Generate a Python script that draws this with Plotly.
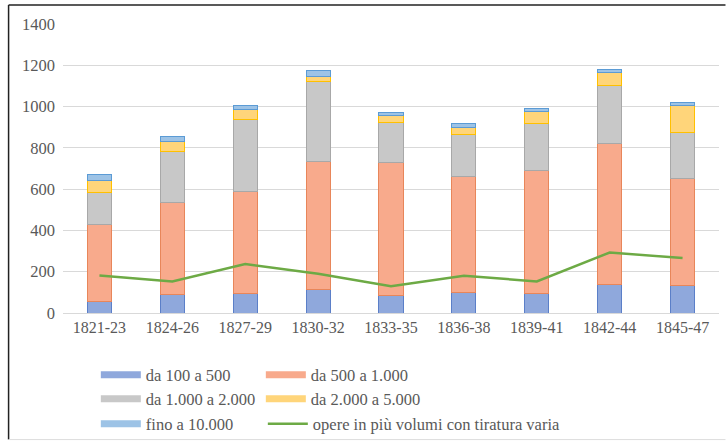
import plotly.graph_objects as go

categories = ["1821-23", "1824-26", "1827-29", "1830-32", "1833-35",
              "1836-38", "1839-41", "1842-44", "1845-47"]
da_100_500 = [56, 89, 93, 113, 84, 100, 93, 140, 134]
da_500_1000 = [371, 446, 495, 620, 646, 561, 597, 682, 516]
da_1000_2000 = [158, 247, 347, 387, 192, 206, 226, 278, 224]
da_2000_5000 = [55, 48, 52, 28, 33, 31, 59, 64, 132]
fino_10000 = [29, 24, 16, 26, 16, 18, 15, 18, 13]
opere_varia = [182, 153, 237, 190, 130, 180, 153, 293, 266]
y_ticks = [0, 200, 400, 600, 800, 1000, 1200, 1400]

series = [
    ("da 100 a 500", da_100_500, "#8FA8DC", "#5B7FC8", "legend"),
    ("da 500 a 1.000", da_500_1000, "#F8AA8C", "#E8865A", "legend"),
    ("da 1.000 a 2.000", da_1000_2000, "#C8C8C8", "#A8A8A8", "legend2"),
    ("da 2.000 a 5.000", da_2000_5000, "#FFD57A", "#FFC000", "legend2"),
    ("fino a 10.000", fino_10000, "#9DC3E6", "#5B9BD5", "legend3"),
]

FONT = "Liberation Serif"
TXT = "#595959"

fig = go.Figure()
for name, vals, fill, edge, lg in series:
    fig.add_trace(go.Bar(x=categories, y=vals, name=name, marker=dict(color=fill, line=dict(color=edge, width=1)),
                         showlegend=False, legendgroup=name))
    fig.add_trace(go.Scatter(x=[None], y=[None], mode="lines", name=name, legendgroup=name,
                             line=dict(color=fill, width=7), legend=lg, hoverinfo="skip"))

fig.add_trace(go.Scatter(x=categories, y=opere_varia, mode="lines",
                         name="opere in più volumi con tiratura varia",
                         line=dict(color="#6DAA45", width=2.5), legend="legend4"))

leg_common = dict(orientation="h", xanchor="left", yanchor="middle", x=0.132,
                  font=dict(family=FONT, size=16.5, color=TXT), itemwidth=40,
                  entrywidth=110, bgcolor="rgba(0,0,0,0)", traceorder="normal",
                  xref="container", yref="container")
leg_right = dict(leg_common, x=0.132 + 167 / 726, entrywidth=0)

fig.update_layout(
    width=726, height=442,
    margin=dict(l=62.5, r=6.5, t=24, b=128.7),
    paper_bgcolor="white", plot_bgcolor="white",
    barmode="stack", bargap=0.67,
    font=dict(family=FONT, size=16, color=TXT),
    legend=dict(leg_common, y=1 - 375 / 442),
    legend2=dict(leg_common, y=1 - 399 / 442),
    legend3=dict(leg_common, y=1 - 424 / 442),
    legend4=dict(leg_right, y=1 - 424 / 442),
    xaxis=dict(showgrid=False, showline=True, linecolor="#D9D9D9", ticks="",
               tickfont=dict(family=FONT, size=16, color=TXT)),
    yaxis=dict(range=[0, 1400], tickvals=y_ticks, showgrid=True, gridcolor="#D9D9D9",
               zeroline=False, showline=False, ticks="", ticklabelstandoff=7,
               tickfont=dict(family=FONT, size=16.5, color=TXT)),
    shapes=[
        dict(type="line", xref="paper", yref="paper", x0=(8 - 62.5) / 657, x1=(726 - 62.5) / 657,
             y0=(442 - 5 - 128.7) / 289.3, y1=(442 - 5 - 128.7) / 289.3, line=dict(color="#222", width=1.5)),
        dict(type="line", xref="paper", yref="paper", x0=(8 - 62.5) / 657, x1=(8 - 62.5) / 657,
             y0=(442 - 5 - 128.7) / 289.3, y1=(442 - 440 - 128.7) / 289.3, line=dict(color="#222", width=1.5)),
        dict(type="line", xref="paper", yref="paper", x0=(8 - 62.5) / 657, x1=(726 - 62.5) / 657,
             y0=(442 - 440 - 128.7) / 289.3, y1=(442 - 440 - 128.7) / 289.3, line=dict(color="#DDD", width=1)),
    ],
)

fig.write_html("out.html", config={"displayModeBar": False},
               post_script="document.body.style.margin='0';")
